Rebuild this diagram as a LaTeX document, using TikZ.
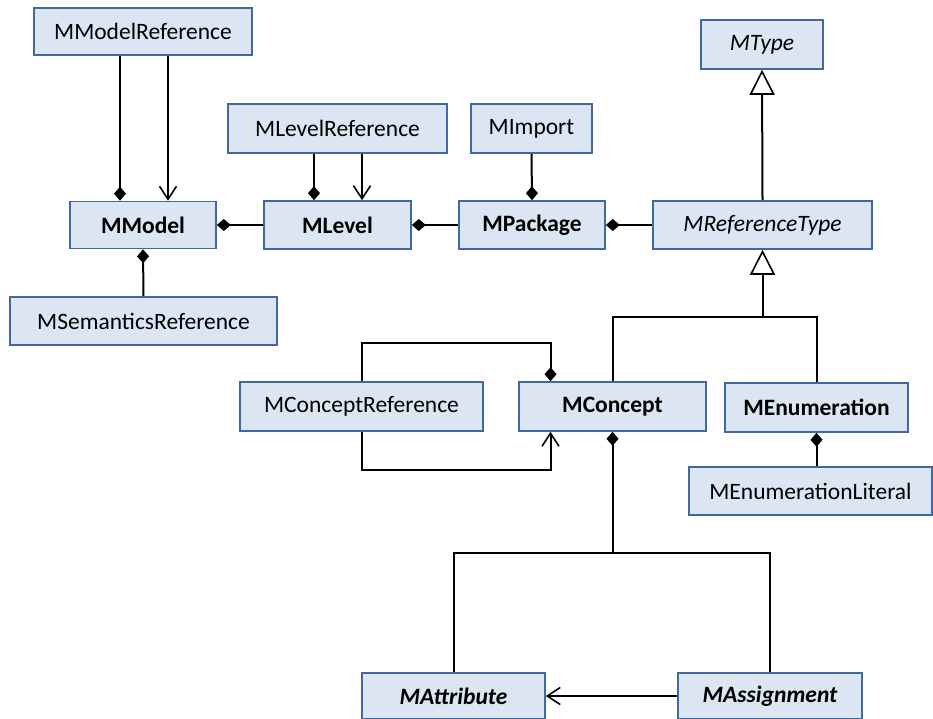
\documentclass[tikz,border=0pt]{standalone}
\usepackage{fontspec}
\setmainfont{Carlito}
\usetikzlibrary{arrows.meta}

\definecolor{boxfill}{RGB}{220,230,242}
\definecolor{boxline}{RGB}{65,105,160}

\begin{document}
\begin{tikzpicture}[x=1pt,y=-1pt,
    cls/.style={draw=boxline,fill=boxfill,line width=1.6,inner sep=0,
        font=\fontsize{23.5}{28}\selectfont},
    link/.style={line width=2},
    comp/.style={link,{Diamond[length=14,width=12]}-},
    assoc/.style={link,{Straight Barb[length=13,width=17,line width=1.6]}-},
    gen/.style={link,{Triangle[open,length=25,width=25,fill=white,line width=1.6]}-}]
    \useasboundingbox (0,0) rectangle (933,719);

    \node[cls,minimum width=218,minimum height=47] (mmodelref) at (143,31.5) {MModelReference};
    \node[cls,minimum width=146,minimum height=47] (mmodel) at (143,225) {\bfseries MModel};
    \node[cls,minimum width=267,minimum height=48] (msemref) at (143.5,321) {MSemanticsReference};

    \node[cls,minimum width=219,minimum height=49] (mlevelref) at (337.5,128.5) {MLevelReference};
    \node[cls,minimum width=147,minimum height=48] (mlevel) at (337.5,225) {\bfseries MLevel};

    \node[cls,minimum width=121,minimum height=49] (mimport) at (531.5,128.5) {MImport};
    \node[cls,minimum width=146,minimum height=48] (mpackage) at (532,225) {\bfseries MPackage};

    \node[cls,minimum width=122,minimum height=49] (mtype) at (762,44.5) {\itshape MType};
    \node[cls,minimum width=219,minimum height=48] (mreftype) at (762.5,225) {\itshape MReferenceType};

    \node[cls,minimum width=243,minimum height=49] (mconceptref) at (361.5,406.5) {MConceptReference};
    \node[cls,minimum width=187,minimum height=49] (mconcept) at (612.5,406.5) {\bfseries MConcept};
    \node[cls,minimum width=183,minimum height=49] (menum) at (816.5,407.5) {\bfseries MEnumeration};
    \node[cls,minimum width=243,minimum height=48] (menumlit) at (810.5,491) {MEnumerationLiteral};

    \node[cls,minimum width=183,minimum height=46] (mattr) at (453.5,696) {\bfseries\itshape MAttribute};
    \node[cls,minimum width=184,minimum height=46] (massign) at (770,696) {\bfseries\itshape MAssignment};

    % model / level / package chain
    \draw[comp] ([xshift=-23]mmodel.north) -- ([xshift=-23]mmodelref.south);
    \draw[assoc] ([xshift=25]mmodel.north) -- ([xshift=25]mmodelref.south);
    \draw[comp] (mmodel.south) -- (msemref.north);
    \draw[comp] (mmodel.east) -- (mlevel.west);

    \draw[comp] ([xshift=-23.5]mlevel.north) -- ([xshift=-23.5]mlevelref.south);
    \draw[assoc] ([xshift=24.5]mlevel.north) -- ([xshift=24.5]mlevelref.south);
    \draw[comp] (mlevel.east) -- (mpackage.west);

    \draw[comp] (mpackage.north) -- (mimport.south);
    \draw[comp] (mpackage.east) -- (mreftype.west);

    % type hierarchy
    \draw[gen] (mtype.south) -- (mreftype.north);
    \draw[gen] (mreftype.south) -- ++(0,67) coordinate (genbar);
    \draw[link] (mconcept.north) |- (genbar) -| (menum.north);

    % concept reference loop
    \draw[comp] ([xshift=-62]mconcept.north) -- ++(0,-38) -| (mconceptref.north);
    \draw[assoc] ([xshift=-62]mconcept.south) -- ++(0,38) -| (mconceptref.south);

    \draw[comp] (menum.south) -- (menum.south |- menumlit.north);

    % attributes and assignments
    \draw[comp] (mconcept.south) -- ++(0,121) coordinate (subbar);
    \draw[link] (mattr.north) |- (subbar) -| (massign.north);
    \draw[assoc] (mattr.east) -- (massign.west);

\end{tikzpicture}
\end{document}
